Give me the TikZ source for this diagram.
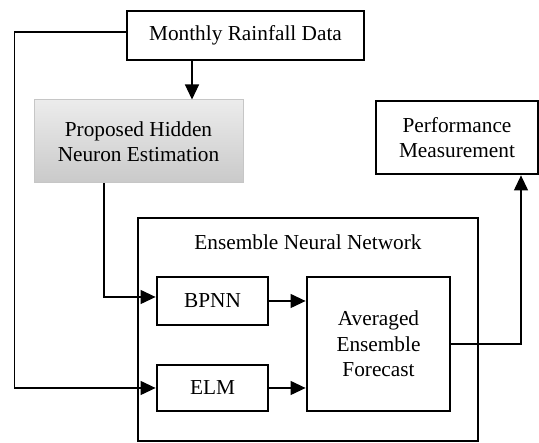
\documentclass[tikz,border=0pt]{standalone}
\usepackage{fontspec}
\setmainfont{Liberation Serif}
\usetikzlibrary{arrows.meta}
\tikzset{
  txt/.style={font=\fontsize{21.3}{25.5}\selectfont},
  box/.style={txt, draw, line width=2.8pt, inner sep=0pt, align=center},
  graybox/.style={txt, draw=gray!45, line width=1pt, top color=gray!15, bottom color=gray!42, inner sep=0pt, align=center},
  outer/.style={draw, line width=2pt, inner sep=0pt},
  arr/.style={line width=1.2pt, -{Triangle[length=15pt,width=14pt]}}
}
\begin{document}
\begin{tikzpicture}[x=1pt,y=-1pt]
\useasboundingbox (0,0) rectangle (539,443);
\node[box, minimum width=237pt, minimum height=49pt] (mon) at (245.5,35.5) {Monthly Rainfall Data};
\node[graybox, minimum width=209pt, minimum height=83pt] (gray) at (138.5,141.5) {Proposed Hidden\\Neuron Estimation};
\node[box, minimum width=162pt, minimum height=73pt] (perf) at (457,137.5) {Performance\\Measurement};
\node[outer, minimum width=340pt, minimum height=223pt] (ens) at (308,330) {};
\node[txt, anchor=center] (enslabel) at ([yshift=-25pt]ens.north) {Ensemble Neural Network};
\node[box, minimum width=111pt, minimum height=48pt] (bpnn) at (212.5,301) {BPNN};
\node[box, minimum width=111pt, minimum height=46pt] (elm) at (212.5,388) {ELM};
\node[box, minimum width=143pt, minimum height=134pt] (avg) at (378.5,344) {Averaged\\Ensemble\\Forecast};
\draw[arr] ([xshift=-53.5pt]mon.south) -- ([xshift=-53.5pt]mon.south |- gray.north);
\draw[arr] ([xshift=-34.5pt]gray.south) |- ([yshift=4pt]bpnn.west);
\draw[arr] ([yshift=3.5pt]mon.west) -- ++(-111,0) |- (elm.west);
\draw[arr] (bpnn.east) -- (bpnn.east -| avg.west);
\draw[arr] (elm.east) -- (elm.east -| avg.west);
\draw[arr] (avg.east) -| ([xshift=64pt]perf.south);
\end{tikzpicture}
\end{document}
